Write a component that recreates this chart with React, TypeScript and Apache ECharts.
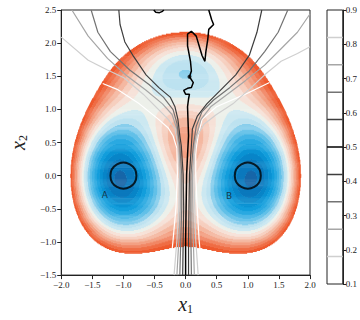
import React, { useEffect, useRef } from "react";
import * as echarts from "echarts";

// ---- potential energy field (three-hole potential) parameters ----
const wellAmp = [3, -3, -5, -5];
const wellX = [0, 0, 1, -1];
const wellY = [1 / 3, 5 / 3, 0, 0];
const quarticCoef = [0.2, 0.2];
const quarticCenter = [0, 1 / 3];

// filled-contour level boundaries and band colours
const energyLevels = [
  -3.93, -3.655, -3.44, -3.225, -3.01, -2.795, -2.58, -2.365, -2.15, -1.935,
  -1.72, -1.505, -1.29, -1.075, -0.86, -0.645, -0.43, -0.215, 0.0,
];
const bandColors = [
  "#1766a8", "#0b79bd", "#0885c8", "#0a92d3", "#139edc", "#2aa9e1",
  "#44b4e5", "#62c0e8", "#88ceec", "#bde2f0", "#cce8f1", "#edf0ea",
  "#f6e1d7", "#f6cfbf", "#f4b8a1", "#f3a083", "#f18664", "#ef6d45", "#ee5a2e",
];

// committor iso-lines
const committorLevels = [0.1, 0.18, 0.26, 0.34, 0.42, 0.5, 0.58, 0.66, 0.74, 0.82, 0.9];
const committorColors = [
  "#ffffff", "#cfcfcf", "#a6a6a6", "#737373", "#3d3d3d", "#000000",
  "#3d3d3d", "#737373", "#a6a6a6", "#cfcfcf", "#ffffff",
];
const line010 = [[-1.333, 1.391], [-1.101, 1.303], [-0.744, 1.084], [-0.434, 0.85], [-0.279, 0.719], [-0.202, 0.602], [-0.14, 0.412], [-0.132, 0.018], [-0.155, -0.478], [-0.202, -0.974], [-0.215, -1.1]];
const line018 = [[-2, 2.091], [-1.566, 1.741], [-1.256, 1.595], [-0.992, 1.478], [-0.682, 1.23], [-0.434, 0.996], [-0.279, 0.85], [-0.171, 0.704], [-0.124, 0.456], [-0.1, 0.018], [-0.109, -0.478], [-0.14, -0.974], [-0.186, -1.5]];
const line026 = [[-1.829, 2.5], [-1.566, 2.106], [-1.256, 1.77], [-0.946, 1.507], [-0.636, 1.288], [-0.372, 1.084], [-0.217, 0.923], [-0.14, 0.704], [-0.109, 0.456], [-0.085, 0.018], [-0.085, -0.478], [-0.109, -0.974], [-0.14, -1.5]];
const line034 = [[-1.519, 2.5], [-1.411, 2.164], [-1.209, 1.872], [-0.899, 1.595], [-0.589, 1.376], [-0.357, 1.186], [-0.202, 0.996], [-0.14, 0.792], [-0.109, 0.558], [-0.093, 0.456], [-0.062, 0.018], [-0.062, -0.478], [-0.078, -0.974], [-0.093, -1.5]];
const line042 = [[-1.074, 2.5], [-1.054, 2.281], [-0.977, 2.018], [-0.837, 1.799], [-0.636, 1.522], [-0.434, 1.332], [-0.248, 1.186], [-0.171, 1.04], [-0.124, 0.85], [-0.093, 0.602], [-0.07, 0.456], [-0.039, 0.018], [-0.031, -0.478], [-0.039, -0.974], [-0.047, -1.5]];
const line050 = [[0.372, 2.5], [0.419, 2.354], [0.45, 2.281], [0.372, 2.208], [0.357, 2.062], [0.326, 1.872], [0.31, 1.726], [0.264, 1.814], [0.217, 1.96], [0.171, 2.106], [0.093, 2.179], [0.031, 2.135], [0.031, 1.96], [0.078, 1.726], [0.093, 1.58], [0.062, 1.493], [0.124, 1.405], [0.093, 1.332], [0.031, 1.318], [-0.031, 1.288], [0.0, 1.23], [0.062, 1.23], [0.047, 1.157], [0.031, 1.04], [0.039, 0.821], [0.047, 0.602], [0.031, 0.31], [0.016, 0.018], [0.008, -0.478], [0.0, -0.974], [0.0, -1.5]];
const line050b = [[-0.512, 2.5], [-0.48, 2.465], [-0.42, 2.46], [-0.372, 2.48], [-0.35, 2.5]];
const line058 = [[1.225, 2.5], [1.147, 2.164], [1.023, 1.814], [0.806, 1.522], [0.558, 1.288], [0.341, 1.084], [0.186, 0.894], [0.109, 0.704], [0.093, 0.456], [0.062, 0.018], [0.054, -0.478], [0.047, -0.974], [0.047, -1.5]];
const line066 = [[1.643, 2.5], [1.488, 2.164], [1.271, 1.872], [1.023, 1.58], [0.713, 1.332], [0.45, 1.142], [0.264, 0.967], [0.171, 0.748], [0.124, 0.456], [0.085, 0.018], [0.085, -0.478], [0.085, -0.974], [0.093, -1.5]];
const line074 = [[2.0, 2.44], [1.969, 2.398], [1.798, 2.164], [1.535, 1.916], [1.271, 1.668], [0.961, 1.434], [0.651, 1.215], [0.403, 1.04], [0.248, 0.85], [0.171, 0.602], [0.147, 0.456], [0.109, 0.018], [0.116, -0.478], [0.124, -0.974], [0.14, -1.5]];
const line082 = [[2.0, 1.945], [1.798, 1.843], [1.535, 1.726], [1.271, 1.522], [1.023, 1.303], [0.76, 1.084], [0.496, 0.923], [0.295, 0.777], [0.186, 0.602], [0.155, 0.456], [0.14, 0.31], [0.132, 0.018], [0.147, -0.478], [0.163, -0.974], [0.202, -1.5]];
const line090 = [[1.349, 1.405], [0.961, 1.23], [0.496, 1.04], [0.264, 0.85], [0.202, 0.602], [0.171, 0.412], [0.163, 0.31], [0.163, 0.018], [0.186, -0.478], [0.217, -0.974], [0.23, -1.1]];
const committorLines = [line010, line018, line026, line034, line042, line050, line058, line066, line074, line082, line090];

const stateCenters = [[-1, 0], [1, 0]];
const stateLabels = ["A", "B"];
const stateLabelPos = [[-1.3, -0.29], [0.7, -0.3]];
const dotPoints = [[0.062, 1.493]];

const colorbarLevels = [0.18, 0.26, 0.34, 0.42, 0.5, 0.58, 0.66, 0.74, 0.82];

const X_MIN = -2, X_MAX = 2, Y_MIN = -1.5, Y_MAX = 2.5;
const NX = 520, NY = 280;

function potential(x: number, y: number) {
  let v = 0;
  for (let i = 0; i < wellAmp.length; i++) {
    v += wellAmp[i] * Math.exp(-((x - wellX[i]) ** 2) - (y - wellY[i]) ** 2);
  }
  v += quarticCoef[0] * (x - quarticCenter[0]) ** 4 + quarticCoef[1] * (y - quarticCenter[1]) ** 4;
  return v;
}
function bandOf(v: number) {
  const last = energyLevels.length - 1;
  if (v >= energyLevels[last]) return -1;
  let k = 0;
  while (k < last && v >= energyLevels[k]) k++;
  return k;
}
function buildRuns() {
  const dx = (X_MAX - X_MIN) / NX;
  const dy = (Y_MAX - Y_MIN) / NY;
  const runs: number[][] = [];
  for (let j = 0; j < NY; j++) {
    const y = Y_MIN + (j + 0.5) * dy;
    let cur = -2, start = 0;
    for (let i = 0; i <= NX; i++) {
      const b = i < NX ? bandOf(potential(X_MIN + (i + 0.5) * dx, y)) : -2;
      if (b !== cur) {
        if (cur >= 0) runs.push([X_MIN + start * dx, X_MIN + i * dx, y, cur]);
        cur = b;
        start = i;
      }
    }
  }
  return { runs, dy };
}

const FONT = "'Liberation Serif', 'DejaVu Serif', serif";
const fmt = (v: number) => (v < 0 ? "\u2212" : "") + Math.abs(v).toFixed(1);

export default function App() {
  const ref = useRef<HTMLDivElement>(null);
  useEffect(() => {
    if (!ref.current) return;
    const chart = echarts.init(ref.current, undefined, { renderer: "svg" });
    const { runs, dy } = buildRuns();
    const half = dy / 2;

    const lineSeries = committorLines.map((pts, k) => ({
      type: "line",
      xAxisIndex: 0,
      yAxisIndex: 0,
      data: pts,
      showSymbol: false,
      symbol: "none",
      silent: true,
      z: committorLevels[k] === 0.5 ? 6 : (committorColors[k] === "#ffffff" ? 3 : 4),
      lineStyle: { color: committorColors[k], width: committorLevels[k] === 0.5 ? 1.5 : 1.2 },
    }));

    const option: any = {
      animation: false,
      backgroundColor: "#ffffff",
      grid: [
        { left: 52, top: 10, width: 258, height: 274, show: true, borderColor: "#222", borderWidth: 1, backgroundColor: "transparent" },
        { left: 327, top: 10, width: 16, height: 274, show: true, borderColor: "#222", borderWidth: 1, backgroundColor: "transparent" },
      ],
      xAxis: [
        {
          type: "value", gridIndex: 0, min: -2, max: 2, interval: 0.5,
          axisLine: { show: true, onZero: false, lineStyle: { color: "#222", width: 1 } },
          axisTick: { show: true, length: 4, lineStyle: { color: "#222" } },
          splitLine: { show: false },
          axisLabel: { formatter: fmt, fontFamily: FONT, fontSize: 9, color: "#222", margin: 5 },
          name: "{v|x}{s|1}", nameLocation: "middle", nameGap: 15,
          nameTextStyle: {
            rich: {
              v: { fontFamily: FONT, fontStyle: "italic", fontSize: 20, color: "#222", verticalAlign: "top" },
              s: { fontFamily: FONT, fontSize: 12, color: "#222", verticalAlign: "top", padding: [9, 0, 0, 0] },
            },
          },
        },
        { type: "value", gridIndex: 1, min: 0, max: 1, show: false },
      ],
      yAxis: [
        {
          type: "value", gridIndex: 0, min: -1.5, max: 2.5, interval: 0.5,
          axisLine: { show: true, onZero: false, lineStyle: { color: "#222", width: 1 } },
          axisTick: { show: true, length: 4, lineStyle: { color: "#222" } },
          splitLine: { show: false },
          axisLabel: { formatter: fmt, fontFamily: FONT, fontSize: 9, color: "#222", margin: 5 },
          name: "{v|x}{s|2}", nameLocation: "middle", nameGap: 21,
          nameTextStyle: {
            rich: {
              v: { fontFamily: FONT, fontStyle: "italic", fontSize: 20, color: "#222", verticalAlign: "top" },
              s: { fontFamily: FONT, fontSize: 12, color: "#222", verticalAlign: "top", padding: [9, 0, 0, 0] },
            },
          },
        },
        {
          type: "value", gridIndex: 1, min: 0.1, max: 0.9, interval: 0.1, position: "right",
          axisLine: { show: true, onZero: false, lineStyle: { color: "#222", width: 1 } },
          axisTick: { show: true, length: 3.5, lineStyle: { color: "#222" } },
          splitLine: { show: false },
          axisLabel: { formatter: (v: number) => v.toFixed(1), fontFamily: FONT, fontSize: 9, color: "#222", margin: 3 },
        },
      ],
      series: [
        {
          type: "custom",
          xAxisIndex: 0,
          yAxisIndex: 0,
          silent: true,
          clip: true,
          z: 1,
          dimensions: ["x0", "x1", "y", "b"],
          encode: { x: [0, 1], y: 2 },
          data: runs,
          renderItem: (params: any, api: any) => {
            const x0 = api.value(0), x1 = api.value(1), y = api.value(2), b = api.value(3);
            const p0 = api.coord([x0, y + half]);
            const p1 = api.coord([x1, y - half]);
            return {
              type: "rect",
              shape: { x: p0[0], y: p0[1], width: p1[0] - p0[0] + 0.3, height: p1[1] - p0[1] + 0.45 },
              style: { fill: bandColors[b] },
            };
          },
        },
        ...lineSeries,
        {
          type: "line", xAxisIndex: 0, yAxisIndex: 0, data: line050b, showSymbol: false, symbol: "none", silent: true, z: 6,
          lineStyle: { color: "#000", width: 1.5 },
        },
        {
          type: "scatter", xAxisIndex: 0, yAxisIndex: 0, data: dotPoints, symbolSize: 4, silent: true, z: 7,
          itemStyle: { color: "#000" },
        },
        {
          type: "scatter", xAxisIndex: 0, yAxisIndex: 0, data: stateCenters, symbol: "circle", symbolSize: 26, silent: true, z: 8,
          itemStyle: { color: "rgba(0,0,0,0)", borderColor: "#000", borderWidth: 2 },
        },
        {
          type: "scatter", xAxisIndex: 0, yAxisIndex: 0, data: stateLabelPos, symbolSize: 1, silent: true, z: 8,
          itemStyle: { color: "rgba(0,0,0,0)" },
          label: {
            show: true, position: "inside", formatter: (p: any) => stateLabels[p.dataIndex],
            fontFamily: "'DejaVu Sans', sans-serif", fontSize: 9, color: "#1a1a1a",
          },
        },
        ...colorbarLevels.map((lv) => {
          const k = committorLevels.indexOf(lv);
          return {
            type: "line", xAxisIndex: 1, yAxisIndex: 1, data: [[0, lv], [1, lv]], showSymbol: false, symbol: "none", silent: true,
            lineStyle: { color: committorColors[k], width: 1.5 },
          };
        }),
      ],
    };
    chart.setOption(option);
    return () => chart.dispose();
  }, []);
  return <div ref={ref} style={{ position: "fixed", left: 0, top: 0, width: 360, height: 320 }} />;
}
